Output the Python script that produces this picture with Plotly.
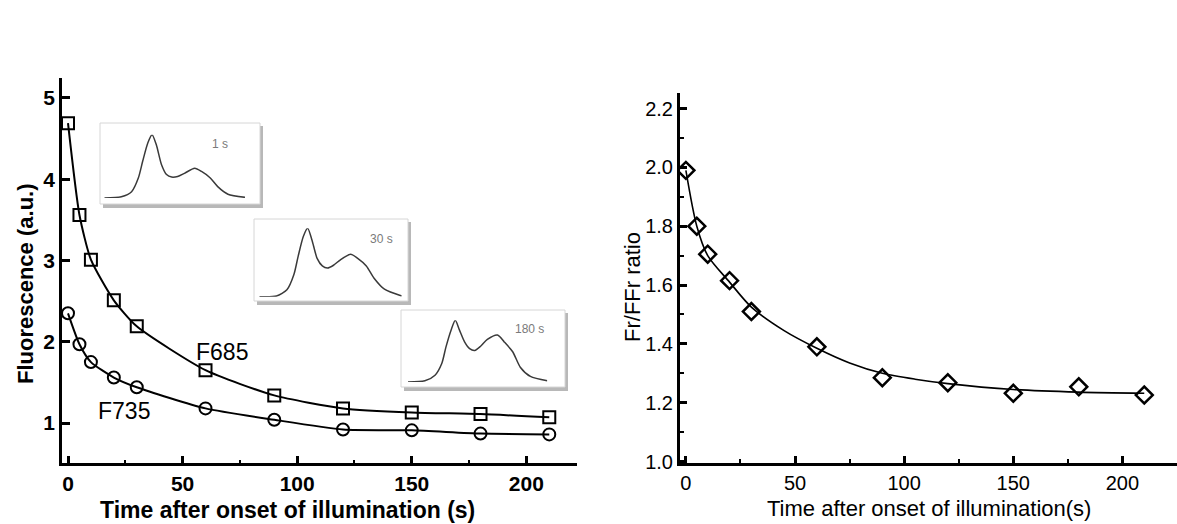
import plotly.graph_objects as go

W, H = 1177, 524

# ---- data: left panel (fluorescence) ----
time_s = [0, 5, 10, 20, 30, 60, 90, 120, 150, 180, 210]
f685 = [4.69, 3.56, 3.01, 2.51, 2.19, 1.65, 1.34, 1.18, 1.13, 1.11, 1.07]
f735 = [2.35, 1.97, 1.75, 1.56, 1.44, 1.18, 1.04, 0.92, 0.91, 0.87, 0.86]

# ---- data: right panel (ratio) ----
ratio = [1.99, 1.80, 1.705, 1.615, 1.51, 1.39, 1.285, 1.268, 1.232, 1.254, 1.226]
fit_t = [0, 5, 10, 20, 30, 45, 60, 75, 90, 105, 120, 150, 180, 210]
fit_ratio = [1.99, 1.80, 1.70, 1.61, 1.525, 1.445, 1.385, 1.335, 1.30, 1.28, 1.265, 1.245, 1.236, 1.232]

# ---- data: inset spectra (normalised) ----
wavelength = [629, 649, 661, 669, 674, 680, 685, 690, 696, 702, 708, 715, 723, 735, 743, 753, 762, 774, 794]
spec_1s = [0, 0.02, 0.10, 0.32, 0.58, 0.87, 1.0, 0.84, 0.53, 0.37, 0.33, 0.34, 0.39, 0.47, 0.42, 0.32, 0.18, 0.06, 0.01]
spec_30s = [0, 0.01, 0.10, 0.32, 0.59, 0.88, 1.0, 0.83, 0.56, 0.45, 0.42, 0.46, 0.54, 0.62, 0.56, 0.45, 0.27, 0.11, 0.01]
spec_180s = [0, 0.02, 0.11, 0.30, 0.57, 0.84, 1.0, 0.84, 0.65, 0.54, 0.51, 0.58, 0.69, 0.76, 0.65, 0.49, 0.24, 0.09, 0.02]
inset_labels = ["1 s", "30 s", "180 s"]

FONT = "Liberation Sans, Arial, sans-serif"


def px(x):
    return x / W


def py(y):
    return 1 - y / H


fig = go.Figure()

# left panel
fig.add_trace(go.Scatter(x=time_s, y=f685, mode="lines+markers", line=dict(color="black", width=2, shape="spline", smoothing=0.6),
                         marker=dict(symbol="square-open", size=12, color="black", line=dict(width=2)),
                         xaxis="x", yaxis="y", showlegend=False))
fig.add_trace(go.Scatter(x=time_s, y=f735, mode="lines+markers", line=dict(color="black", width=2, shape="spline", smoothing=0.6),
                         marker=dict(symbol="circle-open", size=12, color="black", line=dict(width=2)),
                         xaxis="x", yaxis="y", showlegend=False))

# right panel
fig.add_trace(go.Scatter(x=fit_t, y=fit_ratio, mode="lines", line=dict(color="black", width=1.6, shape="spline", smoothing=0.8),
                         xaxis="x2", yaxis="y2", showlegend=False))
fig.add_trace(go.Scatter(x=time_s, y=ratio, mode="markers",
                         marker=dict(symbol="diamond-open", size=13, color="black", line=dict(width=2.5)),
                         xaxis="x2", yaxis="y2", showlegend=False))

# insets: (curve x0, x1, y_top(peak), y_base) in pixels, box (x0,y0,x1,y1), label pos
insets = [
    (spec_1s, (104.3, 245.0, 134.7, 198.0), (100, 123, 260, 204), (220, 144)),
    (spec_30s, (259.3, 401.7, 228.3, 296.7), (254, 219, 408, 301), (381.7, 239)),
    (spec_180s, (408.0, 547.3, 320.3, 382.0), (401, 310, 565, 387), (529.7, 328.7)),
]

shapes = []
annotations = []
for i, (spec, cdom, box, lab) in enumerate(insets):
    n = i + 3
    xa, ya = f"xaxis{n}", f"yaxis{n}"
    fig.add_trace(go.Scatter(x=wavelength, y=spec, mode="lines",
                             line=dict(color="#3a3a3a", width=1.5, shape="spline", smoothing=0.7),
                             xaxis=f"x{n}", yaxis=f"y{n}", showlegend=False))
    fig.update_layout(**{
        xa: dict(domain=[px(cdom[0]), px(cdom[1])], range=[wavelength[0], wavelength[-1]], visible=False, anchor=f"y{n}"),
        ya: dict(domain=[py(cdom[3]), py(cdom[2])], range=[0, 1], visible=False, anchor=f"x{n}"),
    })
    bx0, by0, bx1, by1 = box
    # shadow
    shapes.append(dict(type="rect", xref="paper", yref="paper", layer="below",
                       x0=px(bx0 + 3), x1=px(bx1 + 3), y0=py(by1 + 4), y1=py(by0 + 3),
                       fillcolor="rgba(0,0,0,0.28)", line=dict(width=0)))
    shapes.append(dict(type="rect", xref="paper", yref="paper", layer="below",
                       x0=px(bx0), x1=px(bx1), y0=py(by1), y1=py(by0),
                       fillcolor="white", line=dict(color="#d6d6d6", width=1)))
    annotations.append(dict(text=inset_labels[i], x=px(lab[0]), y=py(lab[1]), xref="paper", yref="paper",
                            xanchor="center", yanchor="middle",
                            showarrow=False, font=dict(family=FONT, size=12, color="#7a7a7a")))

# series labels
annotations.append(dict(text="F685", x=67, y=1.87, xref="x", yref="y", showarrow=False,
                        xanchor="center", yanchor="middle",
                        font=dict(family=FONT, size=23, color="black")))
annotations.append(dict(text="F735", x=24.5, y=1.15, xref="x", yref="y", showarrow=False,
                        xanchor="center", yanchor="middle",
                        font=dict(family=FONT, size=23, color="black")))

# axis titles
annotations.append(dict(text="Fluorescence (a.u.)", x=px(25), y=py(284), xref="paper", yref="paper",
                        xanchor="center", yanchor="middle",
                        showarrow=False, textangle=-90, font=dict(family=FONT, size=22, color="black", weight="bold")))
annotations.append(dict(text="Time after onset of illumination (s)", x=px(287), y=py(510), xref="paper", yref="paper",
                        xanchor="center", yanchor="middle",
                        showarrow=False, font=dict(family=FONT, size=23, color="black", weight="bold")))
annotations.append(dict(text="Fr/FFr ratio", x=px(632), y=py(287), xref="paper", yref="paper",
                        xanchor="center", yanchor="middle",
                        showarrow=False, textangle=-90, font=dict(family=FONT, size=22, color="black")))
annotations.append(dict(text="Time after onset of illumination(s)", x=px(929), y=py(508), xref="paper", yref="paper",
                        xanchor="center", yanchor="middle",
                        showarrow=False, font=dict(family=FONT, size=22, color="black")))

fig.update_layout(
    width=W, height=H,
    margin=dict(l=0, r=0, t=0, b=0),
    paper_bgcolor="white", plot_bgcolor="rgba(0,0,0,0)",
    showlegend=False,
    xaxis=dict(domain=[px(62), px(577)], range=[-2.62, 222.1], anchor="y",
               tickvals=[0, 50, 100, 150, 200], ticks="inside", ticklen=7, tickwidth=2.5, tickcolor="black",
               minor=dict(tickvals=[25, 75, 125, 175], ticks="inside", ticklen=3, tickwidth=2, tickcolor="black"),
               showline=True, linecolor="black", linewidth=2.5, showgrid=False, zeroline=False,
               tickfont=dict(family=FONT, size=21, color="black", weight="bold"), automargin=False),
    yaxis=dict(domain=[py(463), py(78)], range=[0.508, 5.246], anchor="x",
               tickvals=[1, 2, 3, 4, 5], ticks="inside", ticklen=8, tickwidth=2.5, tickcolor="black",
               showline=True, linecolor="black", linewidth=2.5, showgrid=False, zeroline=False,
               tickfont=dict(family=FONT, size=21, color="black", weight="bold"), automargin=False),
    xaxis2=dict(domain=[px(680), 1.0], range=[-2.7, 225], anchor="y2",
                tickvals=[0, 50, 100, 150, 200], ticks="inside", ticklen=7, tickwidth=2.5, tickcolor="black",
                minor=dict(tickvals=[25, 75, 125, 175, 225], ticks="inside", ticklen=4, tickwidth=2, tickcolor="black"),
                showline=True, linecolor="black", linewidth=3, showgrid=False, zeroline=False,
                tickfont=dict(family=FONT, size=20, color="black"), automargin=False),
    yaxis2=dict(domain=[py(462.7), py(93)], range=[0.996, 2.253], anchor="x2",
                tickvals=[1.0, 1.2, 1.4, 1.6, 1.8, 2.0, 2.2], ticktext=["1.0", "1.2", "1.4", "1.6", "1.8", "2.0", "2.2"],
                ticks="inside", ticklen=7, tickwidth=2.5, tickcolor="black",
                minor=dict(tickvals=[1.1, 1.3, 1.5, 1.7, 1.9, 2.1], ticks="inside", ticklen=4, tickwidth=2, tickcolor="black"),
                showline=True, linecolor="black", linewidth=3, showgrid=False, zeroline=False,
                tickfont=dict(family=FONT, size=20, color="black"), automargin=False),
    shapes=shapes,
    annotations=annotations,
)

fig.write_html("out.html")
